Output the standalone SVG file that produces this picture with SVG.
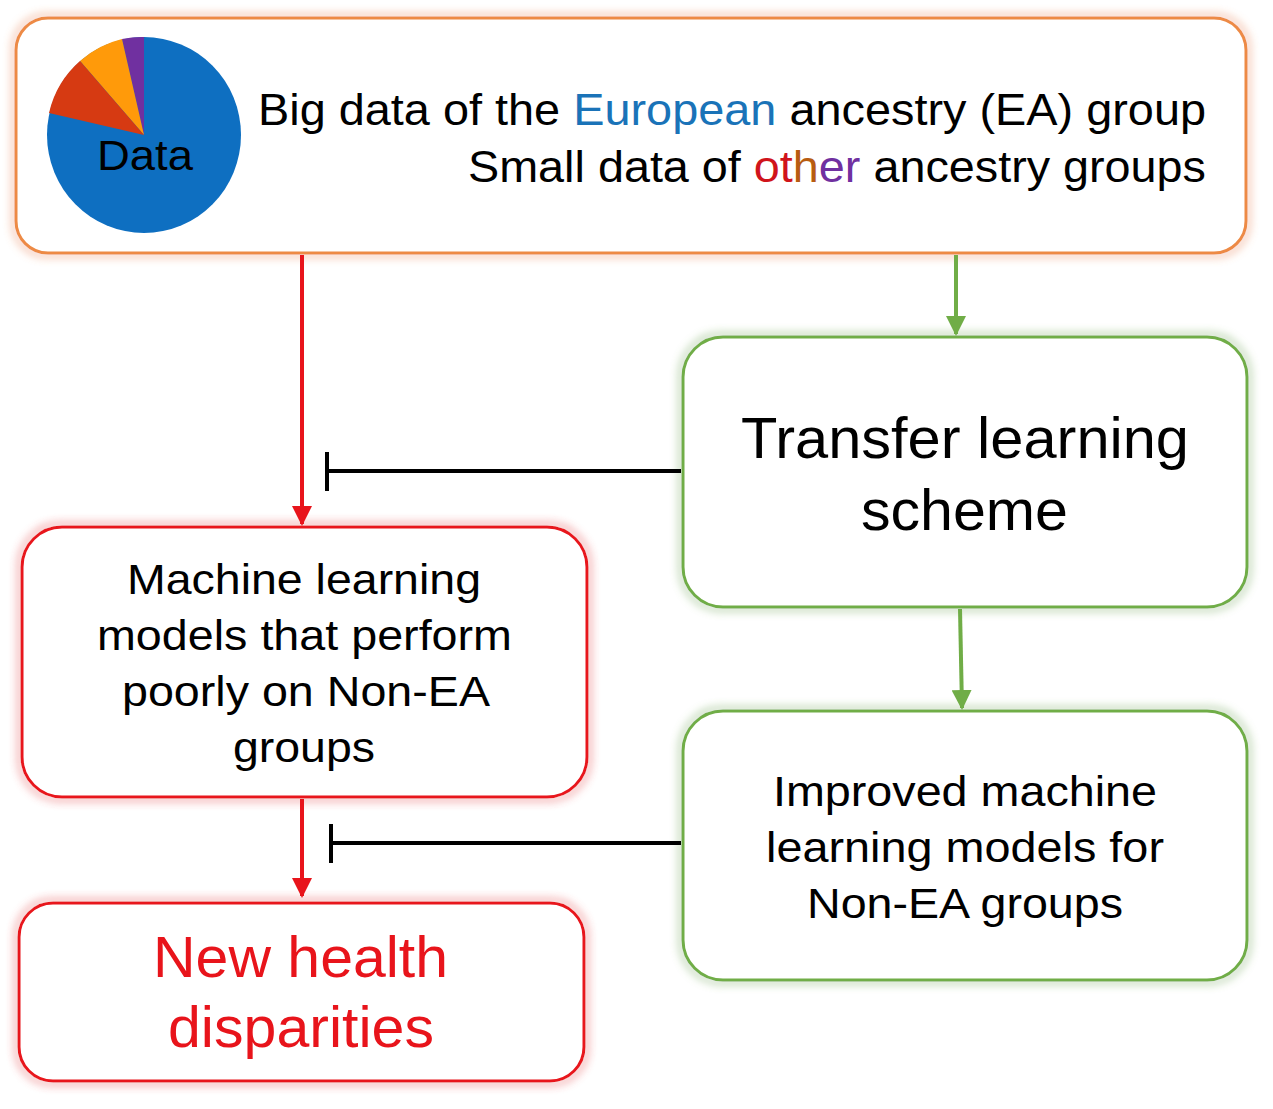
<svg xmlns="http://www.w3.org/2000/svg" width="1273" height="1109" viewBox="0 0 1273 1109">
<defs>
<filter id="go" x="-5%" y="-10%" width="110%" height="120%"><feMorphology in="SourceGraphic" operator="dilate" radius="2" result="d"/><feGaussianBlur in="d" stdDeviation="4" result="b"/><feMerge><feMergeNode in="b"/><feMergeNode in="SourceGraphic"/></feMerge></filter>
<marker id="ar" viewBox="0 0 10 10" refX="9" refY="5" markerWidth="5" markerHeight="5" orient="auto"><path d="M0,0L10,5L0,10z" fill="#e8141b"/></marker>
<marker id="ag" viewBox="0 0 10 10" refX="9" refY="5" markerWidth="5" markerHeight="5" orient="auto"><path d="M0,0L10,5L0,10z" fill="#70ad47"/></marker>
</defs>
<style>
text{font-family:"Liberation Sans",Arial,sans-serif;fill:#000}
.box{fill:#fff;stroke-width:3}
.o{stroke:#ed8a45}.g{stroke:#70ad47}.r{stroke:#e8141b}
.red{fill:#e8141b}
</style>
<rect width="1273" height="1109" fill="#fff"/>
<g id="top">
<rect class="box o" x="16" y="18" width="1230" height="235" rx="32" filter="url(#go)"/>
<ellipse cx="144" cy="135" rx="97" ry="98" fill="#0e6fc1"/>
<path d="M144,135L144,37A97,98 0 0 0 122,39Z" fill="#7030a0"/>
<path d="M144,135L122,39A97,98 0 0 0 80,61Z" fill="#ff9a0a"/>
<path d="M144,135L80,61A97,98 0 0 0 49,113Z" fill="#d63a12"/>
<text x="97" y="170" font-size="42" textLength="96" lengthAdjust="spacingAndGlyphs">Data</text>
<text x="258" y="125" font-size="44" textLength="948" lengthAdjust="spacingAndGlyphs">Big data of the <tspan fill="#1a73b8">European</tspan> ancestry (EA) group</text>
<text x="468" y="182" font-size="44" textLength="738" lengthAdjust="spacingAndGlyphs">Small data of <tspan fill="#d0141b">ot</tspan><tspan fill="#b85c10">h</tspan><tspan fill="#7030a0">er</tspan> ancestry groups</text>
</g>
<g id="transfer">
<rect class="box g" x="683" y="337" width="564" height="270" rx="40" filter="url(#go)"/>
<text x="741" y="458" font-size="57" textLength="448" lengthAdjust="spacingAndGlyphs">Transfer learning</text>
<text x="861" y="530" font-size="57" textLength="207" lengthAdjust="spacingAndGlyphs">scheme</text>
</g>
<g id="improved">
<rect class="box g" x="683" y="711" width="564" height="269" rx="40" filter="url(#go)"/>
<text x="773" y="806" font-size="43" textLength="384" lengthAdjust="spacingAndGlyphs">Improved machine</text>
<text x="766" y="862" font-size="43" textLength="398" lengthAdjust="spacingAndGlyphs">learning models for</text>
<text x="807" y="918" font-size="43" textLength="316" lengthAdjust="spacingAndGlyphs">Non-EA groups</text>
</g>
<g id="ml">
<rect class="box r" x="22" y="527" width="565" height="270" rx="40" filter="url(#go)"/>
<text x="127" y="594" font-size="43" textLength="354" lengthAdjust="spacingAndGlyphs">Machine learning</text>
<text x="97" y="650" font-size="43" textLength="415" lengthAdjust="spacingAndGlyphs">models that perform</text>
<text x="122" y="706" font-size="43" textLength="368" lengthAdjust="spacingAndGlyphs">poorly on Non-EA</text>
<text x="233" y="762" font-size="43" textLength="142" lengthAdjust="spacingAndGlyphs">groups</text>
</g>
<g id="disparities">
<rect class="box r" x="19" y="903" width="565" height="178" rx="34" filter="url(#go)"/>
<text class="red" x="153" y="977" font-size="57" textLength="295" lengthAdjust="spacingAndGlyphs">New health</text>
<text class="red" x="168" y="1047" font-size="57" textLength="266" lengthAdjust="spacingAndGlyphs">disparities</text>
</g>
<g id="connectors" fill="none" stroke-width="4">
<line x1="302" y1="255" x2="302" y2="524" stroke="#e8141b" marker-end="url(#ar)"/>
<line x1="302" y1="799" x2="302" y2="896" stroke="#e8141b" marker-end="url(#ar)"/>
<line x1="956" y1="255" x2="956" y2="334" stroke="#70ad47" marker-end="url(#ag)"/>
<line x1="960" y1="609" x2="962" y2="708" stroke="#70ad47" marker-end="url(#ag)"/>
<path d="M681,471H327M327,452V491" stroke="#000"/>
<path d="M681,843H331M331,824V863" stroke="#000"/>
</g>
</svg>
